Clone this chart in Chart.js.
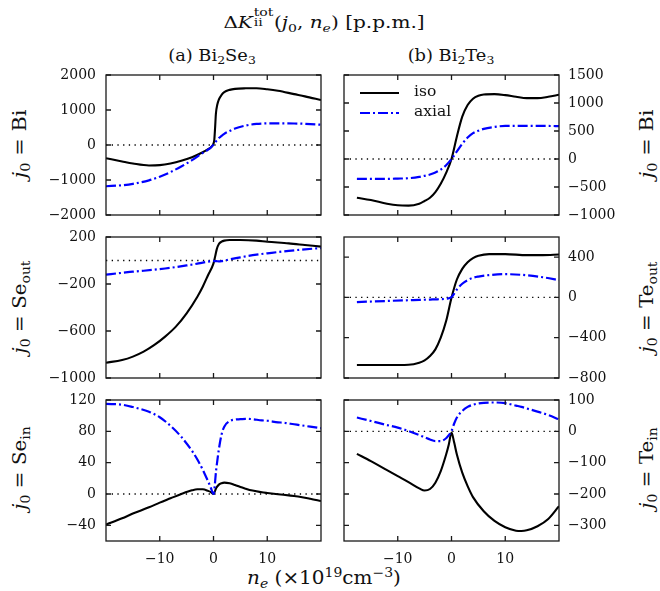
<!DOCTYPE html>
<html><head><meta charset="utf-8">
<script src="https://cdn.jsdelivr.net/npm/chart.js@4.4.0/dist/chart.umd.min.js"></script>
<style>
html,body{margin:0;padding:0;background:#fff;}
#wrap{position:relative;width:660px;height:591px;overflow:hidden;font-family:"DejaVu Serif",serif;color:#111;}
canvas{position:absolute;}
.t{position:absolute;white-space:nowrap;line-height:1;}
.lg{position:absolute;white-space:nowrap;transform:translateY(-50%);line-height:1;font-size:15.5px;}
i{font-style:italic;}
sub{font-size:70%;vertical-align:-0.3em;line-height:0;}
sup{font-size:70%;vertical-align:0.55em;line-height:0;}
.stk{display:inline-block;position:relative;width:1.05em;height:1em;vertical-align:baseline;}
.stk .sp{position:absolute;left:0.06em;top:-0.3em;font-size:70%;}
.stk .sb{position:absolute;left:0.06em;top:0.52em;font-size:70%;}
.eq{margin:0 0.33em;}
</style></head>
<body>
<div id="wrap">
<div class="t" style="left:324px;top:21px;font-size:17px;transform:translate(-50%,-50%) scaleX(1.18)">Δ<i>K</i><span class="stk"><span class="sp">tot</span><span class="sb">ii</span></span>(<i>j</i><sub>0</sub>, <i>n<sub>e</sub></i>) [p.p.m.]</div>
<div class="t" style="left:212px;top:56px;font-size:16.5px;transform:translate(-50%,-50%) scaleX(1.08)">(a) Bi<sub>2</sub>Se<sub>3</sub></div>
<div class="t" style="left:451px;top:56px;font-size:16.5px;transform:translate(-50%,-50%) scaleX(1.08)">(b) Bi<sub>2</sub>Te<sub>3</sub></div>
<div class="t" style="left:20px;top:144px;font-size:18px;transform:translate(-50%,-50%) rotate(-90deg) scaleX(1.15)"><i>j</i><sub>0</sub><span class="eq">=</span>Bi</div>
<div class="t" style="left:20px;top:307px;font-size:18px;transform:translate(-50%,-50%) rotate(-90deg) scaleX(1.1)"><i>j</i><sub>0</sub><span class="eq">=</span>Se<sub>out</sub></div>
<div class="t" style="left:20px;top:468px;font-size:18px;transform:translate(-50%,-50%) rotate(-90deg) scaleX(1.1)"><i>j</i><sub>0</sub><span class="eq">=</span>Se<sub>in</sub></div>
<div class="t" style="left:647px;top:144px;font-size:18px;transform:translate(-50%,-50%) rotate(-90deg) scaleX(1.15)"><i>j</i><sub>0</sub><span class="eq">=</span>Bi</div>
<div class="t" style="left:647px;top:307px;font-size:18px;transform:translate(-50%,-50%) rotate(-90deg) scaleX(1.1)"><i>j</i><sub>0</sub><span class="eq">=</span>Te<sub>out</sub></div>
<div class="t" style="left:647px;top:468px;font-size:18px;transform:translate(-50%,-50%) rotate(-90deg) scaleX(1.1)"><i>j</i><sub>0</sub><span class="eq">=</span>Te<sub>in</sub></div>
<div class="t" style="left:324px;top:578px;font-size:18px;transform:translate(-50%,-50%) scaleX(1.11)"><i>n<sub>e</sub></i> (×10<sup>19</sup>cm<sup>−3</sup>)</div>
</div>
<script>
// ---- data (n_e in 1e19 cm^-3, ΔK in p.p.m.) ----
const xTicks = [-10, 0, 10];

// (a) Bi2Se3, j0 = Bi
const neA1  = [-20,-17,-15,-12,-10,-8,-6,-4,-2,-1,-0.5,0,0.15,0.3,0.45,0.7,1,1.5,2,3,4,6,8,10,12,15,17,20];
const isoA1 = [-377,-470,-528,-585,-575,-528,-453,-349,-208,-120,-70,40,150,500,900,1150,1300,1430,1510,1575,1604,1620,1623,1594,1550,1453,1390,1283];
const axA1  = [-1179,-1150,-1110,-1010,-905,-773,-613,-434,-226,-132,-70,10,40,70,100,140,198,260,320,400,472,557,604,618,620,615,605,580];
const yTicksA1 = [-2000,-1000,0,1000,2000];

// (b) Bi2Te3, j0 = Bi
const neB1  = [-17.6,-15,-12,-10,-8,-6,-5,-4,-3,-2,-1,0,1,2,3,4,5,6,8,10,12,14,16,18,20];
const isoB1 = [-691,-733,-798,-827,-833,-798,-750,-691,-591,-443,-248,0,402,756,963,1076,1129,1152,1158,1141,1111,1087,1087,1111,1147];
const axB1  = [-355,-355,-355,-350,-343,-319,-300,-278,-242,-189,-112,0,136,272,384,461,505,538,573,591,592,592,591,590,588];
const yTicksB1 = [-1000,-500,0,500,1000,1500];

// (a) Bi2Se3, j0 = Se_out
const neA2  = [-20,-17,-15,-13,-11,-9,-7,-5,-3,-2,-1,0,0.3,0.6,1,1.5,2,3,5,8,10,14,17,20];
const isoA2 = [-870,-847,-818,-776,-719,-648,-563,-450,-308,-223,-123,-24,33,95,140,160,169,174,174,169,160,146,132,118];
const axA2  = [-120,-105,-95,-87,-78,-68,-56,-42,-27,-18,-10,-4,-5,-6,-7,-5,-1,9,27,50,61,82,95,106];
const yTicksA2 = [-1000,-600,-200,200];

// (b) Bi2Te3, j0 = Te_out
const neB2  = [-17.6,-12,-8,-6,-5,-4,-3,-2,-1,0,1,2,3,4,5,7,10,14,17,20];
const isoB2 = [-671,-671,-668,-648,-625,-582,-516,-400,-235,-3,178,284,350,390,413,430,430,420,420,426];
const axB2  = [-46,-35,-28,-25,-23,-21,-19,-17,-13,3,79,136,172,195,207,222,231,220,200,172];
const yTicksB2 = [-800,-400,0,400];

// (a) Bi2Se3, j0 = Se_in
const neA3  = [-20,-17,-15,-12,-10,-8,-6,-4,-3,-2,-1,-0.5,0,0.5,1,1.5,2,3,4,5,6,7,9,10,12,13,15,16,18,20];
const isoA3 = [-39,-31,-25,-17,-11,-5.5,0,4.7,6,6,4,2.5,0,7.7,12,13.8,14.5,13.6,11.5,9,6.8,4.7,2.2,1.3,-0.3,-1,-2.6,-3.4,-6,-9];
const axA3  = [115,114,111,105,98,87,73,55,44,31,16,8,0,31,57,76,86,93,95,95.5,96,95.7,94,93.5,91.5,91,89,88,86,84];
const yTicksA3 = [-40,0,40,80,120];

// (b) Bi2Te3, j0 = Te_in
const neB3  = [-17.6,-15,-12,-10,-8,-6,-5,-4,-3,-2,-1,-0.5,0,0.5,1,2,3,4,6,8,10,12,13,14,16,18,20];
const isoB3 = [-72,-95,-124,-143,-162,-182,-189,-184,-164,-127,-74,-42,-4,-36,-74,-132,-175,-210,-255,-286,-306,-317,-318,-316,-303,-280,-239];
const axB3  = [44,33,20,12,1,-12,-19,-26,-31,-31,-22,-12,1,25,44,65,78,85,91,92,90,82,78,73,63,52,38];
const yTicksB3 = [-300,-200,-100,0,100];

const seriesNames = ['iso', 'axial'];

// ---- layout ----
const panels = [
  {col:0,row:0,ne:neA1,iso:isoA1,ax:axA1,yt:yTicksA1,ymin:-2000,ymax:2000},
  {col:1,row:0,ne:neB1,iso:isoB1,ax:axB1,yt:yTicksB1,ymin:-1000,ymax:1500},
  {col:0,row:1,ne:neA2,iso:isoA2,ax:axA2,yt:yTicksA2,ymin:-1000,ymax:200},
  {col:1,row:1,ne:neB2,iso:isoB2,ax:axB2,yt:yTicksB2,ymin:-800,ymax:600},
  {col:0,row:2,ne:neA3,iso:isoA3,ax:axA3,yt:yTicksA3,ymin:-60,ymax:120},
  {col:1,row:2,ne:neB3,iso:isoB3,ax:axB3,yt:yTicksB3,ymin:-350,ymax:100}
];
const rowTop = [75, 237, 400], rowBot = [215, 378, 541];
const PAD = 22, XAXIS_H = 30;

const fmt = v => (v < 0 ? '\u2212' + Math.abs(v) : String(v));
const tickFont = {family:'DejaVu Serif', size:14};

const framePlugin = {
  id:'frame',
  afterDatasetsDraw(chart){
    const {ctx, chartArea:a, scales:{x, y}} = chart;
    ctx.save();
    ctx.strokeStyle = '#1a1a1a';
    ctx.lineWidth = 1.3;
    ctx.setLineDash([]);
    ctx.strokeRect(a.left, a.top, a.right - a.left, a.bottom - a.top);
    const L = 5;
    ctx.beginPath();
    x.ticks.forEach(t => {
      const p = x.getPixelForValue(t.value);
      ctx.moveTo(p, a.top); ctx.lineTo(p, a.top + L);
      ctx.moveTo(p, a.bottom); ctx.lineTo(p, a.bottom - L);
    });
    y.ticks.forEach(t => {
      const p = y.getPixelForValue(t.value);
      ctx.moveTo(a.left, p); ctx.lineTo(a.left + L, p);
      ctx.moveTo(a.right, p); ctx.lineTo(a.right - L, p);
    });
    ctx.stroke();
    ctx.restore();
  }
};

const wrap = document.getElementById('wrap');
panels.forEach(p => {
  const cv = document.createElement('canvas');
  const last = p.row === 2;
  const W = 330;
  const H = (rowBot[p.row] - rowTop[p.row]) + PAD + (last ? XAXIS_H + 2 : PAD);
  cv.width = W; cv.height = H;
  cv.style.left = (p.col === 0 ? 0 : 330) + 'px';
  cv.style.top = (rowTop[p.row] - PAD) + 'px';
  cv.style.width = W + 'px'; cv.style.height = H + 'px';
  wrap.appendChild(cv);
  const pts = arr => p.ne.map((x, i) => ({x, y: arr[i]}));
  new Chart(cv, {
    type:'line',
    data:{datasets:[
      {label:seriesNames[1], data:pts(p.ax), borderColor:'#0000ff', borderWidth:2.2,
       borderDash:[10,3,2,3], pointRadius:0, cubicInterpolationMode:'monotone', fill:false},
      {label:seriesNames[0], data:pts(p.iso), borderColor:'#000000', borderWidth:2.1,
       pointRadius:0, cubicInterpolationMode:'monotone', fill:false},
      {label:'zero', data:[{x:-20,y:0},{x:20,y:0}], borderColor:'#000000', borderWidth:1.3,
       borderDash:[1.3,4.4], pointRadius:0, tension:0, fill:false}
    ]},
    options:{
      responsive:false, animation:false, devicePixelRatio:1,
      layout:{padding:{top:PAD, bottom: last ? 2 : PAD, left: p.col === 0 ? 0 : 14, right: p.col === 0 ? 9 : 0}},
      plugins:{legend:{display:false}, tooltip:{enabled:false}},
      scales:{
        x:{type:'linear', min:-20, max:20, position:'bottom',
           grid:{display:false, drawTicks:false}, border:{display:false},
           ticks:{display:last, font:tickFont, color:'#111', padding:10, autoSkip:false, maxRotation:0, callback:fmt},
           afterBuildTicks:s => { s.ticks = xTicks.map(v => ({value:v})); },
           afterFit:s => { s.height = last ? XAXIS_H : 0; }},
        y:{type:'linear', min:p.ymin, max:p.ymax, position: p.col === 0 ? 'left' : 'right',
           grid:{display:false, drawTicks:false}, border:{display:false},
           ticks:{font:tickFont, color:'#111', padding: p.col === 0 ? 10 : 9, autoSkip:false, callback:fmt},
           afterBuildTicks:s => { s.ticks = p.yt.map(v => ({value:v})); },
           afterFit:s => { s.width = p.col === 0 ? 106 : 101; }}
      }
    },
    plugins:[framePlugin]
  });
});

// legend (inside panel b, top row)
const lg = document.createElement('div');
lg.innerHTML =
  '<svg style="position:absolute;left:360px;top:83px" width="40" height="40">' +
  '<line x1="0" y1="10" x2="39" y2="10" stroke="#000" stroke-width="2.1"/>' +
  '<line x1="0" y1="30" x2="39" y2="30" stroke="#00f" stroke-width="2.2" stroke-dasharray="10 3 2 3"/></svg>' +
  '<div class="lg" style="left:414px;top:92px">' + seriesNames[0] + '</div>' +
  '<div class="lg" style="left:414px;top:112px">' + seriesNames[1] + '</div>';
wrap.appendChild(lg);
</script>
</body></html>
